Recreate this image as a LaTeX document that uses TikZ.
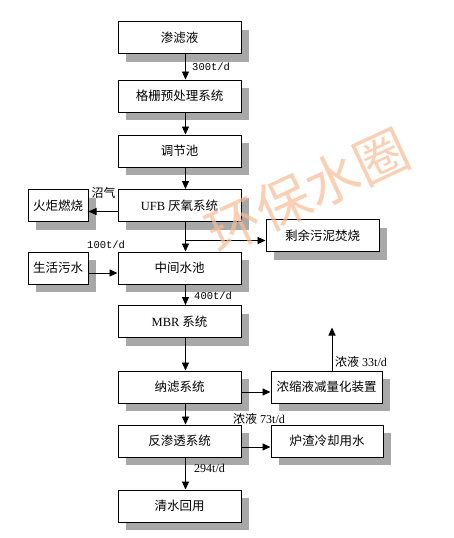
\documentclass[tikz,border=0pt]{standalone}
\usepackage{fontspec}
\setmainfont{Liberation Serif}
\newfontfamily\cjk{Noto Sans CJK SC}
\newfontfamily\monof{Liberation Mono}
\usetikzlibrary{arrows.meta,shadows,calc}
\definecolor{shd}{RGB}{168,168,168}
\definecolor{wm}{RGB}{248,188,150}
\tikzset{
  box/.style={draw=black, line width=1pt, fill=white, rectangle, inner sep=0pt,
    minimum height=32pt, font=\fontsize{12.5}{14}\selectfont\cjk,
    drop shadow={shadow xshift=8pt, shadow yshift=-8pt, fill=shd, opacity=1}},
  mainbox/.style={box, minimum width=123pt},
  arr/.style={line width=0.9pt, -{Triangle[length=8pt,width=7pt]}},
  lbl/.style={inner sep=0pt, anchor=west, font=\fontsize{12}{14}\selectfont},
  mlbl/.style={inner sep=0pt, anchor=west, font=\fontsize{10.5}{12}\selectfont\monof},
}
\begin{document}
\begin{tikzpicture}[x=1pt,y=-1pt]
\useasboundingbox (0,0) rectangle (454,538);
% main column
\node[mainbox] (b1) at (179.5,37.5) {渗滤液};
\node[mainbox] (b2) at (179.5,96) {格栅预处理系统};
\node[mainbox] (b3) at (179.5,151) {调节池};
\node[mainbox] (b4) at (179.5,205.5) {{\rmfamily UFB} 厌氧系统};
\node[mainbox] (b5) at (179.5,268) {中间水池};
\node[mainbox] (b6) at (179.5,321.5) {{\rmfamily MBR} 系统};
\node[mainbox] (b7) at (179.5,387) {纳滤系统};
\node[mainbox] (b8) at (179.5,441) {反渗透系统};
\node[mainbox] (b9) at (179.5,506) {清水回用};
% side boxes
\node[box, minimum width=60pt] (fire) at (58,205.5) {火炬燃烧};
\node[box, minimum width=60pt] (sew) at (58,268) {生活污水};
\node[box, minimum width=113pt] (sludge) at (322.5,235.5) {剩余污泥焚烧};
\node[box, minimum width=111pt] (conc) at (326.5,387) {浓缩液减量化装置};
\node[box, minimum width=112pt] (slag) at (327,441) {炉渣冷却用水};
% vertical arrows
\draw[arr] ([xshift=6pt]b1.south) -- ([xshift=6pt]b2.north);
\draw[arr] ([xshift=6pt]b2.south) -- ([xshift=6pt]b3.north);
\draw[arr] ([xshift=6pt]b3.south) -- ([xshift=6pt]b4.north);
\draw[arr] ([xshift=6pt]b4.south) -- ([xshift=6pt]b5.north);
\draw[arr] ([xshift=6pt]b5.south) -- ([xshift=6pt]b6.north);
\draw[arr] ([xshift=6pt]b6.south) -- ([xshift=6pt]b7.north);
\draw[arr] ([xshift=6pt]b7.south) -- ([xshift=6pt]b8.north);
\draw[arr] ([xshift=6pt]b8.south) -- ([xshift=6pt]b9.north);
% side arrows
\coordinate (fy) at ([yshift=-6pt]b4.west);
\draw[arr] (fy) -- (fy -| fire.east);
\coordinate (br) at ($(b4.south)+(6,18.5)$);
\draw[arr] (br) -- (br -| sludge.west);
\coordinate (sy) at ([yshift=-5pt]sew.east);
\draw[arr] (sy) -- (sy -| b5.west);
\coordinate (ny) at ([yshift=-5pt]b7.east);
\draw[arr] (ny) -- (ny -| conc.west);
\coordinate (ry) at ([yshift=-6pt]b8.east);
\draw[arr] (ry) -- (ry -| slag.west);
\coordinate (up) at ([xshift=5.5pt]conc.north);
\coordinate (upend) at ($(up)+(0,-43)$);
\draw[arr] (up) -- (upend);
% labels
\node[mlbl] (l300) at (192,67) {300t/d};
\node[lbl, font=\fontsize{12}{14}\selectfont\cjk] (lgas) at (91.5,193) {沼气};
\node[mlbl] (l100) at (87,245) {100t/d};
\node[mlbl] (l400) at (194,296) {400t/d};
\node[lbl] (l33) at (335,362) {{\cjk 浓液} 33t/d};
\node[lbl] (l73) at (233,419) {{\cjk 浓液} 73t/d};
\node[lbl] (l294) at (194,468) {294t/d};
% watermark
\node[text=wm, opacity=0.7, rotate=25, font=\fontsize{54}{58}\selectfont\cjk, inner sep=0pt] (wmk) at (308,191) {环保水圈};
\end{tikzpicture}
\end{document}
